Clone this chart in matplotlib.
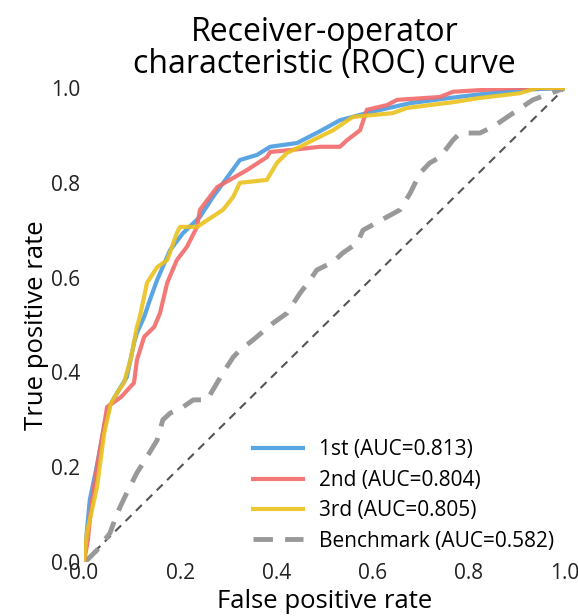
import matplotlib
matplotlib.use("Agg")
import matplotlib.pyplot as plt

plt.rcParams['font.family'] = ['Open Sans', 'DejaVu Sans']

labels = ["1st (AUC=0.813)", "2nd (AUC=0.804)", "3rd (AUC=0.805)", "Benchmark (AUC=0.582)"]

fpr_1st = [0, 0.012, 0.025, 0.042, 0.052, 0.069, 0.089, 0.104, 0.110, 0.125, 0.137, 0.152, 0.179,
           0.206, 0.241, 0.268, 0.324, 0.360, 0.387, 0.443, 0.491, 0.532, 0.595, 0.678, 0.761,
           0.809, 0.906, 1.0]
tpr_1st = [0, 0.131, 0.194, 0.285, 0.327, 0.357, 0.390, 0.462, 0.483, 0.517, 0.553, 0.595, 0.658,
           0.694, 0.728, 0.770, 0.848, 0.859, 0.876, 0.884, 0.909, 0.932, 0.949, 0.968, 0.979,
           0.985, 0.996, 1.0]

fpr_2nd = [0, 0.008, 0.015, 0.027, 0.040, 0.048, 0.077, 0.104, 0.110, 0.125, 0.146, 0.158, 0.173,
           0.193, 0.214, 0.235, 0.241, 0.277, 0.339, 0.380, 0.387, 0.428, 0.491, 0.532, 0.547,
           0.574, 0.588, 0.630, 0.651, 0.740, 0.767, 0.892, 1.0]
tpr_2nd = [0, 0.046, 0.116, 0.200, 0.278, 0.327, 0.348, 0.378, 0.426, 0.475, 0.496, 0.525, 0.589,
           0.637, 0.665, 0.707, 0.743, 0.791, 0.827, 0.854, 0.865, 0.869, 0.876, 0.876, 0.890,
           0.911, 0.954, 0.964, 0.975, 0.981, 0.992, 1.0, 1.0]

fpr_3rd = [0, 0.006, 0.027, 0.042, 0.056, 0.069, 0.083, 0.098, 0.110, 0.116, 0.131, 0.152, 0.173,
           0.193, 0.200, 0.235, 0.256, 0.289, 0.310, 0.324, 0.380, 0.401, 0.422, 0.449, 0.476,
           0.518, 0.559, 0.642, 0.672, 0.767, 0.823, 0.906, 0.942, 1.0]
tpr_3rd = [0, 0.061, 0.158, 0.272, 0.335, 0.357, 0.378, 0.432, 0.496, 0.517, 0.589, 0.622, 0.637,
           0.694, 0.707, 0.707, 0.721, 0.743, 0.770, 0.800, 0.806, 0.842, 0.863, 0.876, 0.890,
           0.911, 0.939, 0.947, 0.958, 0.970, 0.979, 0.989, 1.0, 1.0]

fpr_bench = [0, 0.006, 0.027, 0.054, 0.069, 0.089, 0.110, 0.131, 0.152, 0.164, 0.179, 0.206, 0.227,
             0.256, 0.268, 0.289, 0.310, 0.324, 0.351, 0.393, 0.422, 0.449, 0.470, 0.484, 0.518,
             0.538, 0.568, 0.580, 0.630, 0.657, 0.678, 0.699, 0.719, 0.740, 0.767, 0.782, 0.823,
             0.850, 0.892, 0.933, 1.0]
tpr_bench = [0, 0.004, 0.025, 0.061, 0.103, 0.146, 0.188, 0.222, 0.257, 0.300, 0.314, 0.327, 0.342,
             0.342, 0.363, 0.399, 0.432, 0.447, 0.468, 0.504, 0.525, 0.567, 0.595, 0.616, 0.633,
             0.652, 0.673, 0.700, 0.728, 0.743, 0.778, 0.821, 0.842, 0.854, 0.890, 0.905, 0.905,
             0.918, 0.947, 0.975, 1.0]

diag = [0, 1]

fig = plt.figure(figsize=(5.78, 6.16), dpi=100)
ax = fig.add_axes([84/578, 1-562/616, (565-84)/578, (562-88)/616])

ax.plot(diag, diag, color='#555555', lw=1.5, ls=(0, (4, 3)), zorder=1)
ax.plot(fpr_1st, tpr_1st, color='#4a9be0', lw=3, alpha=0.9, label=labels[0], zorder=3)
ax.plot(fpr_2nd, tpr_2nd, color='#f26b6b', lw=3, alpha=0.9, label=labels[1], zorder=3)
ax.plot(fpr_3rd, tpr_3rd, color='#ebc21f', lw=3, alpha=0.9, label=labels[2], zorder=3)
ax.plot(fpr_bench, tpr_bench, color='#999999', lw=3.5, ls=(0, (4, 2.5)), label=labels[3], zorder=2)

ax.set_xlim(0, 1)
ax.set_ylim(0, 1)
for s in ax.spines.values():
    s.set_visible(False)
ax.tick_params(length=0, labelsize=15, colors='#222222')
ax.tick_params(axis='x', pad=1)
ax.tick_params(axis='y', pad=3)
ax.set_xticks([0, 0.2, 0.4, 0.6, 0.8, 1.0])
ax.set_yticks([0, 0.2, 0.4, 0.6, 0.8, 1.0])
ax.set_xticklabels(["0.0", "0.2", "0.4", "0.6", "0.8", "1.0"])
ax.set_yticklabels(["0.0", "0.2", "0.4", "0.6", "0.8", "1.0"])
ax.set_xlabel("False positive rate", fontsize=18.5, labelpad=3)
ax.set_ylabel("True positive rate", fontsize=18.5, labelpad=1)
ax.set_title("Receiver-operator\ncharacteristic (ROC) curve", fontsize=23, pad=11, linespacing=0.95)

ax.legend(loc='lower right', bbox_to_anchor=(1.0, 0.0), frameon=False, fontsize=15,
          handlelength=2.4, handletextpad=0.8, labelspacing=0.45, borderaxespad=0.1)

fig.savefig("out.png", dpi=100)
